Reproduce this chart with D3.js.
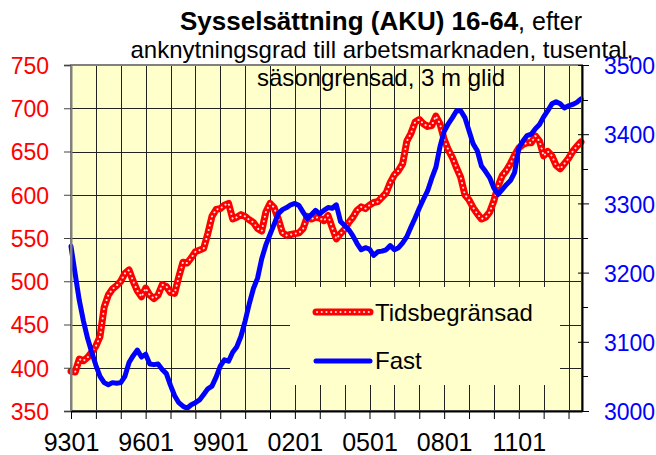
<!DOCTYPE html>
<html><head><meta charset="utf-8">
<script src="https://cdn.jsdelivr.net/npm/d3@7"></script>
<style>
html,body{margin:0;padding:0;background:#fff;}
text{font-family:"Liberation Sans",Arial,sans-serif;}
</style></head>
<body><svg id="c" width="656" height="455"></svg>
<script>
// Periods (YYMM), every second month 1993-01 .. 2013-07
const periods = [
"9301","9303","9305","9307","9309","9311","9401","9403","9405","9407","9409","9411",
"9501","9503","9505","9507","9509","9511","9601","9603","9605","9607","9609","9611",
"9701","9703","9705","9707","9709","9711","9801","9803","9805","9807","9809","9811",
"9901","9903","9905","9907","9909","9911","0001","0003","0005","0007","0009","0011",
"0101","0103","0105","0107","0109","0111","0201","0203","0205","0207","0209","0211",
"0301","0303","0305","0307","0309","0311","0401","0403","0405","0407","0409","0411",
"0501","0503","0505","0507","0509","0511","0601","0603","0605","0607","0609","0611",
"0701","0703","0705","0707","0709","0711","0801","0803","0805","0807","0809","0811",
"0901","0903","0905","0907","0909","0911","1001","1003","1005","1007","1009","1011",
"1101","1103","1105","1107","1109","1111","1201","1203","1205","1207","1209","1211",
"1301","1303","1305","1307"];
// Tidsbegränsad (left axis, tusental)
const tidsbegransad = [
396,395,410,408,412,418, 425,436,470,484,491,495,
500,509,513,500,489,482, 492,484,480,484,496,494,
487,486,505,522,521,527, 534,536,538,555,575,583,
584,588,590,572,574,577, 575,571,568,561,558,580,
590,585,572,556,553,554, 555,556,561,575,572,574,
573,570,576,562,549,555, 560,568,574,582,586,584,
588,591,592,597,602,614, 623,628,636,662,671,684,
687,682,679,680,691,682, 664,652,643,631,620,600,
594,585,578,572,574,580, 593,610,622,628,636,646,
654,658,660,660,668,662, 645,650,645,634,630,636,
642,650,656,661];
// Fast (right axis, tusental)
const fast = [
3238,3198,3160,3130,3105,3085, 3066,3050,3041,3038,3041,3040,
3041,3050,3070,3080,3088,3078, 3082,3068,3067,3068,3060,3054,
3037,3022,3012,3007,3004,3009, 3012,3016,3024,3032,3036,3049,
3065,3074,3072,3085,3093,3108, 3130,3155,3177,3192,3220,3240,
3255,3270,3285,3291,3294,3298, 3300,3297,3287,3278,3284,3290,
3285,3290,3294,3293,3298,3274, 3268,3262,3253,3242,3233,3236,
3234,3225,3230,3231,3233,3239, 3233,3236,3243,3252,3266,3279,
3293,3306,3318,3336,3352,3382, 3404,3415,3424,3434,3434,3424,
3405,3386,3376,3354,3346,3337, 3322,3313,3320,3327,3333,3345,
3380,3390,3398,3400,3408,3414, 3425,3434,3444,3447,3444,3438,
3441,3443,3446,3451];
const leftTicks = [350,400,450,500,550,600,650,700,750];
const rightTicks = [3000,3100,3200,3300,3400,3500];
const rightMinorTicks = [3050,3150,3250,3350,3450];
const yearTicks = ["9301","9401","9501","9601","9701","9801","9901","0001","0101","0201","0301","0401","0501","0601","0701","0801","0901","1001","1101","1201","1301"];
const xLabels = ["9301","9601","9901","0201","0501","0801","1101"];
const seriesNames = ["Tidsbegränsad","Fast"];
const titleBold = "Sysselsättning (AKU) 16-64";
const titleRest = ", efter";
const subtitle1 = "anknytningsgrad till arbetsmarknaden, tusental,";
const subtitle2 = "säsongrensad, 3 m glid";

function monthIndex(p){ const yy=+p.slice(0,2), mm=+p.slice(2,4); const y = yy>50?1900+yy:2000+yy; return (y-1993)*12+(mm-1); }

const L=71, R=582, T=65, B=411;
const svg = d3.select("#c");
const x = d3.scaleLinear().domain([0,246.5]).range([L,R]);
const yL = d3.scaleLinear().domain([350,750]).range([B,T]);
const yR = d3.scaleLinear().domain([3000,3500]).range([B,T]);

// plot background
svg.append("rect").attr("x",L).attr("y",T).attr("width",R-L).attr("height",B-T).attr("fill","#ffffcc");

// gridlines
const g = svg.append("g");
yearTicks.forEach(p=>{ const xx=Math.round(x(monthIndex(p)))+0.5;
  g.append("line").attr("x1",xx).attr("x2",xx).attr("y1",T).attr("y2",B).attr("stroke","#222").attr("stroke-width",1);});
leftTicks.forEach(v=>{ const yy=Math.round(yL(v))+0.5;
  g.append("line").attr("x1",L).attr("x2",R).attr("y1",yy).attr("y2",yy).attr("stroke","#222").attr("stroke-width",1);});

// legend background (covers gridlines)
svg.append("rect").attr("x",290).attr("y",287).attr("width",270).attr("height",98).attr("fill","#ffffcc");

// title
const t1 = svg.append("text").attr("x",180).attr("y",30).attr("fill","#000");
t1.append("tspan").attr("font-weight","bold").attr("font-size",26).text(titleBold);
t1.append("tspan").attr("font-size",25).text(titleRest);
svg.append("text").attr("x",382).attr("y",58).attr("text-anchor","middle").attr("font-size",24).text(subtitle1);
svg.append("text").attr("x",381).attr("y",86).attr("text-anchor","middle").attr("font-size",24).text(subtitle2);

// lines
const lineL = d3.line().x((d,i)=>x(monthIndex(periods[i]))).y(d=>yL(d));
const lineR = d3.line().x((d,i)=>x(monthIndex(periods[i]))).y(d=>yR(d));
svg.append("path").attr("d",lineL(tidsbegransad)).attr("fill","none").attr("stroke","#ff0000").attr("stroke-width",7).attr("stroke-linejoin","round").attr("stroke-linecap","round");
svg.append("path").attr("d",lineL(tidsbegransad)).attr("fill","none").attr("stroke","#ffe4e4").attr("stroke-width",2).attr("stroke-dasharray","0.1 4.6").attr("stroke-linecap","round");
svg.append("path").attr("d",lineR(fast)).attr("fill","none").attr("stroke","#0000ff").attr("stroke-width",5).attr("stroke-linejoin","round").attr("stroke-linecap","round");

// plot border
svg.append("rect").attr("x",L).attr("y",T).attr("width",R-L).attr("height",B-T).attr("fill","none").attr("stroke","#808080").attr("stroke-width",2);

// left axis
const ax = svg.append("g").attr("transform",`translate(${L},0)`)
  .call(d3.axisLeft(yL).tickValues(leftTicks).tickSize(7).tickPadding(15).tickFormat(d3.format("d")));
ax.select(".domain").attr("stroke","#808080").attr("stroke-width",2);
ax.selectAll(".tick line").attr("stroke","#444");
ax.selectAll("text").attr("fill","#ff0000").attr("font-size",23).attr("font-family","Liberation Sans, Arial, sans-serif").attr("dy","0.36em");

// right axis
const ar = svg.append("g").attr("transform",`translate(${R},0)`)
  .call(d3.axisRight(yR).tickValues(rightTicks).tickSizeInner(7).tickSizeOuter(0).tickPadding(15).tickFormat(d3.format("d")));
ar.select(".domain").attr("stroke","#000").attr("stroke-width",2);
ar.selectAll(".tick line").attr("x1",-4).attr("stroke","#000");
ar.selectAll("text").attr("fill","#0000ff").attr("font-size",23).attr("font-family","Liberation Sans, Arial, sans-serif").attr("dy","0.38em");
rightMinorTicks.forEach(v=>{ const yy=Math.round(yR(v))+0.5;
  svg.append("line").attr("x1",R).attr("x2",R+6).attr("y1",yy).attr("y2",yy).attr("stroke","#000");});

// bottom axis
const ab = svg.append("g").attr("transform",`translate(0,${B})`)
  .call(d3.axisBottom(x).tickValues(yearTicks.map(monthIndex)).tickSizeInner(8).tickSizeOuter(0)
  .tickFormat((d,i)=>{ const p=yearTicks[i]; return xLabels.includes(p)?p:""; }));
ab.select(".domain").attr("stroke","#000").attr("stroke-width",2);
ab.selectAll(".tick line").attr("stroke","#000");
ab.selectAll("text").attr("fill","#000").attr("font-size",25).attr("font-family","Liberation Sans, Arial, sans-serif").attr("y",40).attr("dy",null);

// legend
const lg = svg.append("g");
lg.append("line").attr("x1",316).attr("x2",370).attr("y1",312).attr("y2",312).attr("stroke","#ff0000").attr("stroke-width",7).attr("stroke-linecap","round");
lg.append("line").attr("x1",317).attr("x2",370).attr("y1",312).attr("y2",312).attr("stroke","#ffe4e4").attr("stroke-width",2).attr("stroke-dasharray","0.1 4.6").attr("stroke-linecap","round");
lg.append("text").attr("x",375).attr("y",321).attr("font-size",24).text(seriesNames[0]);
lg.append("line").attr("x1",316).attr("x2",370).attr("y1",361).attr("y2",361).attr("stroke","#0000ff").attr("stroke-width",5).attr("stroke-linecap","round");
lg.append("text").attr("x",375).attr("y",369).attr("font-size",24).text(seriesNames[1]);
</script></body></html>
